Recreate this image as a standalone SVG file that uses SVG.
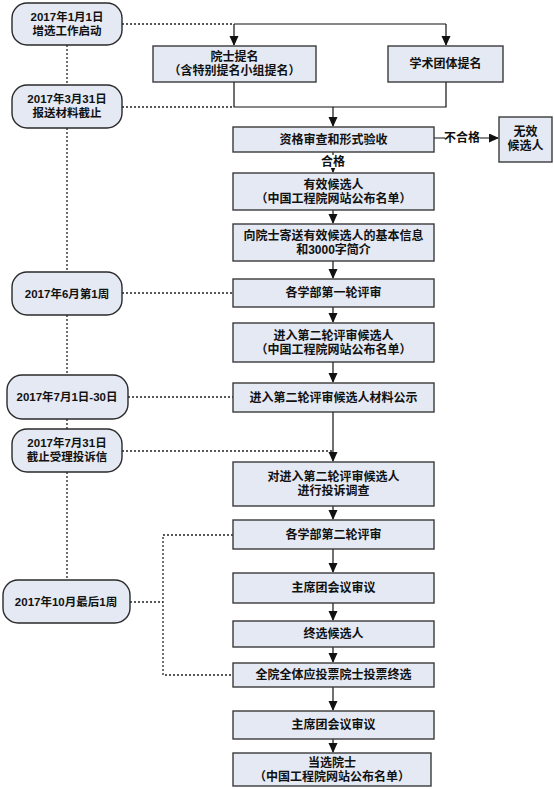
<svg xmlns="http://www.w3.org/2000/svg" width="554" height="789" viewBox="0 0 554 789">
<style>
.box{fill:#e4e9f3;stroke:#3a3a3a;stroke-width:1.4}
.ov{fill:#e4e9f3;stroke:#2a2a2a;stroke-width:1.4}
text{font-family:"Liberation Sans","Noto Sans CJK SC",sans-serif;font-weight:bold;font-size:12px;fill:#111;text-anchor:middle;dominant-baseline:central}
.ot{font-size:11.5px}
.ln{fill:none;stroke:#111;stroke-width:1.2}
.dt{fill:none;stroke:#222;stroke-width:1.3;stroke-dasharray:2,2}
.lbl{fill:#fff}
</style>
<defs>
<marker id="ar" markerUnits="userSpaceOnUse" markerWidth="10" markerHeight="11" refX="9" refY="4.5" orient="auto">
<path d="M0,0 L10,4.5 L0,9 Z" fill="#111"/>
</marker>
</defs>
<rect width="554" height="789" fill="#fff"/>

<g id="connectors">
<path class="dt" d="M67,45V85M67,128V272M67,315V375M67,419V429M67,472V580"/>
<path class="dt" d="M122,24H234"/>
<path class="ln" d="M234,24H446"/>
<path class="ln" d="M234,24V45" marker-end="url(#ar)"/>
<path class="ln" d="M446,24V45" marker-end="url(#ar)"/>
<path class="ln" d="M234,82V107H446V82"/>
<path class="dt" d="M122,107H234"/>
<path class="ln" d="M333,107V126" marker-end="url(#ar)"/>
<path class="ln" d="M434,138H498" marker-end="url(#ar)"/>
<rect class="lbl" x="445" y="131" width="35" height="14"/>
<text x="462" y="138">不合格</text>
<path class="ln" d="M333,152V172" stroke-width="0.8" marker-end="url(#ar)"/>
<rect class="lbl" x="318" y="155" width="30" height="13"/>
<text x="333" y="161.5">合格</text>
<path class="ln" d="M333,210V223" marker-end="url(#ar)"/>
<path class="ln" d="M333,261V278" marker-end="url(#ar)"/>
<path class="dt" d="M122,293H233"/>
<path class="ln" d="M333,307V322" marker-end="url(#ar)"/>
<path class="ln" d="M333,362V382" marker-end="url(#ar)"/>
<path class="dt" d="M128,397H233"/>
<path class="ln" d="M333,412V461" marker-end="url(#ar)"/>
<path class="dt" d="M122,451H333"/>
<path class="ln" d="M333,506V519" marker-end="url(#ar)"/>
<path class="dt" d="M233,535H163V675H233M130,602H163"/>
<path class="ln" d="M333,549V572" marker-end="url(#ar)"/>
<path class="ln" d="M333,603V620" marker-end="url(#ar)"/>
<path class="ln" d="M333,647V662" marker-end="url(#ar)"/>
<path class="ln" d="M333,687V710" marker-end="url(#ar)"/>
<path class="ln" d="M333,739V752" marker-end="url(#ar)"/>
</g>

<g id="o1"><rect class="ov" x="12" y="3" width="110" height="42" rx="15"/><text class="ot" x="67" y="16.5">2017年1月1日</text><text class="ot" x="67" y="30.5">增选工作启动</text></g>
<g id="o2"><rect class="ov" x="12" y="85" width="110" height="43" rx="15"/><text class="ot" x="67" y="99">2017年3月31日</text><text class="ot" x="67" y="113">报送材料截止</text></g>
<g id="o3"><rect class="ov" x="12" y="272" width="110" height="43" rx="15"/><text class="ot" x="67" y="293.5">2017年6月第1周</text></g>
<g id="o4"><rect class="ov" x="7" y="375" width="121" height="44" rx="15"/><text class="ot" x="67" y="397">2017年7月1日-30日</text></g>
<g id="o5"><rect class="ov" x="12" y="429" width="110" height="43" rx="15"/><text class="ot" x="67" y="443">2017年7月31日</text><text class="ot" x="67" y="457">截止受理投诉信</text></g>
<g id="o6"><rect class="ov" x="3" y="580" width="127" height="43" rx="15"/><text class="ot" x="66" y="602">2017年10月最后1周</text></g>

<g id="n1"><rect class="box" x="153" y="46" width="163" height="36"/><text x="234.5" y="57">院士提名</text><text x="234.5" y="71">（含特别提名小组提名）</text></g>
<g id="n2"><rect class="box" x="388" y="46" width="115" height="36"/><text x="445.5" y="64">学术团体提名</text></g>
<g id="n3"><rect class="box" x="233" y="127" width="201" height="25"/><text x="333.5" y="139.5">资格审查和形式验收</text></g>
<g id="n4"><rect class="box" x="499" y="117" width="53" height="45"/><text x="525.5" y="132">无效</text><text x="525.5" y="146">候选人</text></g>
<g id="n5"><rect class="box" x="233" y="173" width="201" height="37"/><text x="333.5" y="184.5">有效候选人</text><text x="333.5" y="198.5">（中国工程院网站公布名单）</text></g>
<g id="n6"><rect class="box" x="233" y="224" width="201" height="37"/><text x="333.5" y="235.5">向院士寄送有效候选人的基本信息</text><text x="333.5" y="249.5">和3000字简介</text></g>
<g id="n7"><rect class="box" x="233" y="279" width="201" height="28"/><text x="333.5" y="293">各学部第一轮评审</text></g>
<g id="n8"><rect class="box" x="233" y="323" width="201" height="39"/><text x="333.5" y="335.5">进入第二轮评审候选人</text><text x="333.5" y="349.5">（中国工程院网站公布名单）</text></g>
<g id="n9"><rect class="box" x="233" y="383" width="201" height="29"/><text x="333.5" y="397.5">进入第二轮评审候选人材料公示</text></g>
<g id="n10"><rect class="box" x="233" y="462" width="201" height="44"/><text x="333.5" y="476.5">对进入第二轮评审候选人</text><text x="333.5" y="490.5">进行投诉调查</text></g>
<g id="n11"><rect class="box" x="233" y="520" width="201" height="29"/><text x="333.5" y="534.5">各学部第二轮评审</text></g>
<g id="n12"><rect class="box" x="233" y="573" width="201" height="30"/><text x="333.5" y="588">主席团会议审议</text></g>
<g id="n13"><rect class="box" x="233" y="621" width="201" height="26"/><text x="333.5" y="634">终选候选人</text></g>
<g id="n14"><rect class="box" x="233" y="663" width="201" height="24"/><text x="333.5" y="675">全院全体应投票院士投票终选</text></g>
<g id="n15"><rect class="box" x="233" y="711" width="201" height="28"/><text x="333.5" y="725">主席团会议审议</text></g>
<g id="n16"><rect class="box" x="233" y="753" width="198" height="33"/><text x="332" y="762.5">当选院士</text><text x="332" y="776.5">（中国工程院网站公布名单）</text></g>
</svg>
